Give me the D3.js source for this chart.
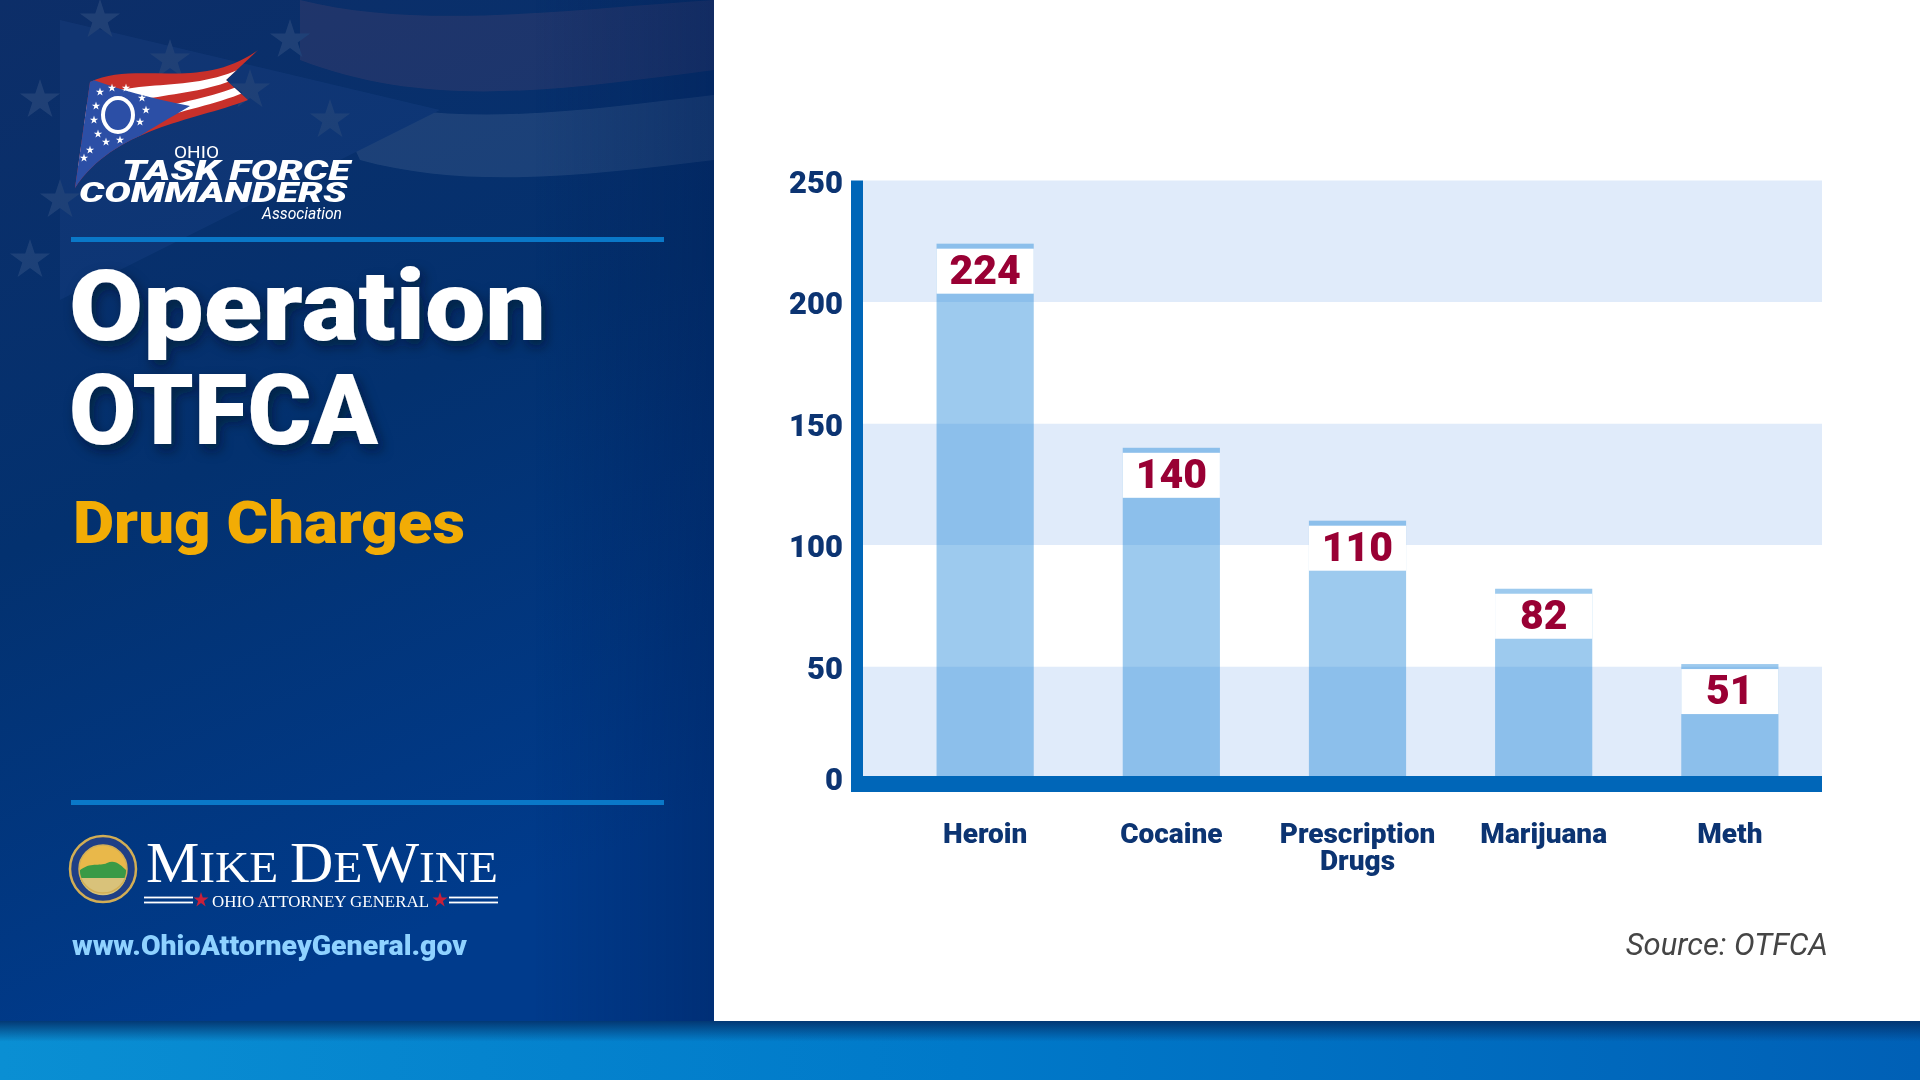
<!DOCTYPE html>
<html>
<head>
<meta charset="utf-8">
<script src="https://cdn.jsdelivr.net/npm/d3@7"></script>
<style>
  html, body { margin: 0; padding: 0; background: #ffffff; }
  svg { display: block; }
</style>
</head>
<body>
<svg id="chart" width="1920" height="1080"></svg>
<script>
// ---------- data ----------
const categories = ["Heroin", "Cocaine", "Prescription Drugs", "Marijuana", "Meth"];
const values = [224, 140, 110, 82, 51];
const yTicks = [0, 50, 100, 150, 200, 250];
const titleLines = ["Operation", "OTFCA"];
const subtitle = "Drug Charges";
const sourceText = "Source: OTFCA";
const urlText = "www.OhioAttorneyGeneral.gov";

const svg = d3.select("#chart");
const defs = svg.append("defs");
const FONT = "Roboto, Lato, 'Liberation Sans', Arial, sans-serif";
const SERIF = "'Liberation Serif', 'DejaVu Serif', serif";

// ---------- left panel background ----------
const g1 = defs.append("linearGradient").attr("id", "panelGrad")
  .attr("x1", "0").attr("y1", "0").attr("x2", "0.3").attr("y2", "1");
g1.append("stop").attr("offset", "0").attr("stop-color", "#0d2e68");
g1.append("stop").attr("offset", "0.5").attr("stop-color", "#03316f");
g1.append("stop").attr("offset", "1").attr("stop-color", "#003b8c");
const g2 = defs.append("linearGradient").attr("id", "panelEdge")
  .attr("x1", "0").attr("y1", "0").attr("x2", "1").attr("y2", "0");
g2.append("stop").attr("offset", "0").attr("stop-color", "#001a50").attr("stop-opacity", 0);
g2.append("stop").attr("offset", "0.75").attr("stop-color", "#001a50").attr("stop-opacity", 0);
g2.append("stop").attr("offset", "1").attr("stop-color", "#001a50").attr("stop-opacity", 0.35);
const g3 = defs.append("linearGradient").attr("id", "stripeGrad")
  .attr("x1", "0").attr("y1", "0").attr("x2", "1").attr("y2", "0");
g3.append("stop").attr("offset", "0").attr("stop-color", "#0a8fd3");
g3.append("stop").attr("offset", "0.5").attr("stop-color", "#0079c9");
g3.append("stop").attr("offset", "1").attr("stop-color", "#0060b6");
const g4 = defs.append("linearGradient").attr("id", "stripeTop")
  .attr("x1", "0").attr("y1", "0").attr("x2", "0").attr("y2", "1");
g4.append("stop").attr("offset", "0").attr("stop-color", "#03306a").attr("stop-opacity", 0.9);
g4.append("stop").attr("offset", "0.35").attr("stop-color", "#03306a").attr("stop-opacity", 0);
g4.append("stop").attr("offset", "1").attr("stop-color", "#03306a").attr("stop-opacity", 0);

const shadow = defs.append("filter").attr("id", "shadow")
  .attr("x", "-10%").attr("y", "-10%").attr("width", "130%").attr("height", "140%");
shadow.append("feDropShadow").attr("dx", 4).attr("dy", 6).attr("stdDeviation", 6)
  .attr("flood-color", "#000820").attr("flood-opacity", 0.55);

svg.append("rect").attr("x", 0).attr("y", 0).attr("width", 714).attr("height", 1021)
  .attr("fill", "url(#panelGrad)");

// faint background flag
const bg = svg.append("g").attr("opacity", 0.09);
bg.append("path").attr("d", "M300,0 C420,30 560,10 714,0 L714,70 C560,90 430,110 300,60 Z").attr("fill", "#ff8080");
bg.append("path").attr("d", "M330,95 C460,130 580,110 714,95 L714,160 C590,175 470,190 360,160 Z").attr("fill", "#ffffff");
bg.append("path").attr("d", "M60,20 L440,110 L60,300 Z").attr("fill", "#4f7fd8");
const starPath = d3.symbol().type(d3.symbolStar);
[[100,20],[170,60],[40,100],[250,90],[330,120],[60,200],[30,260],[290,40]].forEach(p => {
  bg.append("path").attr("d", starPath.size(500)()).attr("transform", `translate(${p[0]},${p[1]})`).attr("fill", "#ffffff");
});
svg.append("rect").attr("x", 0).attr("y", 0).attr("width", 714).attr("height", 1021)
  .attr("fill", "url(#panelEdge)");

// bottom stripe
svg.append("rect").attr("x", 0).attr("y", 1021).attr("width", 1920).attr("height", 59).attr("fill", "url(#stripeGrad)");
svg.append("rect").attr("x", 0).attr("y", 1021).attr("width", 1920).attr("height", 59).attr("fill", "url(#stripeTop)");

// dividers
svg.append("rect").attr("x", 71).attr("y", 237).attr("width", 593).attr("height", 5).attr("fill", "#0a78c8");
svg.append("rect").attr("x", 71).attr("y", 800).attr("width", 593).attr("height", 5).attr("fill", "#0a78c8");

// ---------- Task force logo ----------
const logo = svg.append("g");
const topC = [[90,82],[135,60],[200,92],[258,50]];
const botC = [[75,188],[115,128],[190,122],[248,100]];
function lerpCurve(t) {
  return topC.map((q, i) => [q[0] + (botC[i][0] - q[0]) * t, q[1] + (botC[i][1] - q[1]) * t]);
}
function curveStr(p, rev) {
  if (!rev) return `M${p[0]} C${p[1]} ${p[2]} ${p[3]}`;
  return `L${p[3]} C${p[2]} ${p[1]} ${p[0]}`;
}
defs.append("clipPath").attr("id", "flagClip").append("path")
  .attr("d", "M90,82 C135,60 200,92 258,50 L226,80 L248,100 C190,122 115,128 75,188 Z");
const flag = logo.append("g").attr("clip-path", "url(#flagClip)");
flag.append("rect").attr("x", 60).attr("y", 40).attr("width", 220).attr("height", 160).attr("fill", "#c8302a");
[[0.2,0.4],[0.6,0.8]].forEach(([a,b]) => {
  const pa = lerpCurve(a), pb = lerpCurve(b);
  flag.append("path").attr("d", curveStr(pa) + " " + curveStr(pb, true) + " Z").attr("fill", "#ffffff");
});
flag.append("path").attr("d", "M88,78 C120,90 150,98 190,106 C150,130 110,150 70,195 Z").attr("fill", "#2c4fa6");
logo.append("ellipse").attr("cx", 118).attr("cy", 115).attr("rx", 15).attr("ry", 17)
  .attr("fill", "none").attr("stroke", "#ffffff").attr("stroke-width", 4);
[[100,92],[112,88],[126,88],[142,98],[146,110],[140,122],[96,106],[94,120],[98,134],[106,142],[120,140],[90,150],[84,158]].forEach(p => {
  logo.append("path").attr("d", starPath.size(22)()).attr("transform", `translate(${p[0]},${p[1]})`).attr("fill", "#ffffff");
});
logo.append("text").attr("x", 174).attr("y", 158).attr("font-family", FONT).attr("font-size", 17)
  .attr("fill", "#ffffff").attr("textLength", 45).attr("lengthAdjust", "spacingAndGlyphs").text("OHIO");
logo.append("text").attr("x", 122).attr("y", 180).attr("font-family", FONT).attr("font-weight", 900)
  .attr("font-style", "italic").attr("font-size", 27).attr("fill", "#ffffff")
  .attr("textLength", 228).attr("lengthAdjust", "spacingAndGlyphs").text("TASK FORCE");
logo.append("text").attr("x", 79).attr("y", 202).attr("font-family", FONT).attr("font-weight", 900)
  .attr("font-style", "italic").attr("font-size", 27).attr("fill", "#ffffff")
  .attr("textLength", 268).attr("lengthAdjust", "spacingAndGlyphs").text("COMMANDERS");
logo.append("text").attr("x", 262).attr("y", 219).attr("font-family", FONT).attr("font-style", "italic")
  .attr("font-size", 16).attr("fill", "#ffffff")
  .attr("textLength", 80).attr("lengthAdjust", "spacingAndGlyphs").text("Association");

// ---------- titles ----------
svg.append("text").attr("x", 69).attr("y", 340).attr("font-family", FONT).attr("font-weight", 900)
  .attr("font-size", 98).attr("fill", "#ffffff").attr("filter", "url(#shadow)")
  .attr("textLength", 477).attr("lengthAdjust", "spacingAndGlyphs").text(titleLines[0]);
svg.append("text").attr("x", 69).attr("y", 444).attr("font-family", FONT).attr("font-weight", 900)
  .attr("font-size", 98).attr("fill", "#ffffff").attr("filter", "url(#shadow)")
  .attr("textLength", 309).attr("lengthAdjust", "spacingAndGlyphs").text(titleLines[1]);
svg.append("text").attr("x", 73).attr("y", 543).attr("font-family", FONT).attr("font-weight", 900)
  .attr("font-size", 59).attr("fill", "#f2ac05")
  .attr("textLength", 392).attr("lengthAdjust", "spacingAndGlyphs").text(subtitle);

// ---------- Mike DeWine block ----------
const seal = svg.append("g").attr("transform", "translate(103,869)");
seal.append("circle").attr("r", 33).attr("fill", "#1f3f86").attr("stroke", "#d2ae55").attr("stroke-width", 2.5);
seal.append("circle").attr("r", 24).attr("fill", "#e9b84a");
seal.append("path").attr("d", "M-24,2 C-12,-8 -4,-2 4,-6 C12,-10 18,-4 24,2 A24,24 0 0 1 -24,2 Z").attr("fill", "#3a9a46");
seal.append("path").attr("d", "M-23,9 L23,9 A24,24 0 0 1 -23,9 Z").attr("fill", "#d9c27a");
seal.append("circle").attr("r", 24).attr("fill", "none").attr("stroke", "#d2ae55").attr("stroke-width", 1.5);

const mdw = svg.append("text").attr("x", 146).attr("y", 882).attr("font-family", SERIF)
  .attr("fill", "#ffffff").attr("textLength", 352).attr("lengthAdjust", "spacingAndGlyphs");
[["M",57],["IKE ",45],["D",57],["E",45],["W",57],["INE",45]].forEach(([t,s]) => {
  mdw.append("tspan").attr("font-size", s).text(t);
});
svg.append("text").attr("x", 212).attr("y", 907).attr("font-family", SERIF).attr("font-size", 17)
  .attr("fill", "#ffffff").attr("textLength", 217).attr("lengthAdjust", "spacingAndGlyphs").text("OHIO ATTORNEY GENERAL");
[[144,193],[449,498]].forEach(([a,b]) => {
  [897.5, 902.5].forEach(yy => {
    svg.append("rect").attr("x", a).attr("y", yy - 0.9).attr("width", b - a).attr("height", 1.8).attr("fill", "#ffffff");
  });
});
[201, 440].forEach(cx => {
  svg.append("path").attr("d", starPath.size(70)()).attr("transform", `translate(${cx},900)`).attr("fill", "#c8203a");
});
svg.append("text").attr("x", 72).attr("y", 955).attr("font-family", FONT).attr("font-weight", 900)
  .attr("font-size", 27).attr("fill", "#8fd2ff")
  .attr("textLength", 395).attr("lengthAdjust", "spacingAndGlyphs").text(urlText);

// ---------- chart ----------
const y = d3.scaleLinear().domain([0, 250]).range([788, 180.5]);
const x = d3.scaleBand().domain(categories).range([890, 1825]).paddingInner(0.478).paddingOuter(0.25);
const plotL = 863, plotR = 1822;

const chart = svg.append("g");
// alternating bands
const bandData = yTicks.slice(0, -1).map((t, i) => ({ lo: t, hi: yTicks[i + 1], i }));
chart.selectAll("rect.band").data(bandData).join("rect").attr("class", "band")
  .attr("x", plotL).attr("width", plotR - plotL)
  .attr("y", d => y(d.hi)).attr("height", d => y(d.lo) - y(d.hi))
  .attr("fill", d => d.i % 2 === 0 ? "#e0ebfa" : "#ffffff");

// bars
const data = categories.map((c, i) => ({ c, v: values[i] }));
chart.selectAll("rect.bar").data(data).join("rect").attr("class", "bar")
  .attr("x", d => x(d.c)).attr("width", x.bandwidth())
  .attr("y", d => y(d.v)).attr("height", d => y(0) - y(d.v))
  .attr("fill", "rgb(37,137,217)").attr("fill-opacity", 0.45);
// label boxes
chart.selectAll("rect.lbox").data(data).join("rect").attr("class", "lbox")
  .attr("x", d => x(d.c)).attr("width", x.bandwidth())
  .attr("y", d => y(d.v) + 5).attr("height", 45)
  .attr("fill", "#ffffff");
chart.selectAll("text.val").data(data).join("text").attr("class", "val")
  .attr("x", d => x(d.c) + x.bandwidth() / 2).attr("y", d => y(d.v) + 40)
  .attr("text-anchor", "middle").attr("font-family", FONT).attr("font-weight", 900)
  .attr("font-size", 41).attr("fill", "#990034").text(d => d.v);

// axis bars
chart.append("rect").attr("x", 851).attr("y", 180.5).attr("width", 12).attr("height", 792 - 180.5).attr("fill", "#0066b8");
chart.append("rect").attr("x", 851).attr("y", 776).attr("width", plotR - 851).attr("height", 16).attr("fill", "#0066b8");

// y axis labels
const yAxis = chart.append("g").attr("transform", "translate(851,0)")
  .call(d3.axisLeft(y).tickValues(yTicks).tickSize(0).tickPadding(8));
yAxis.select(".domain").remove();
yAxis.selectAll(".tick text").attr("font-family", FONT).attr("font-weight", 900)
  .attr("font-size", 31).attr("fill", "#0c3472")
  .attr("y", d => d === 0 ? -8 : 2);

// x axis labels
const xAxis = chart.append("g").attr("transform", "translate(0,792)")
  .call(d3.axisBottom(x).tickSize(0).tickFormat(""));
xAxis.select(".domain").remove();
xAxis.selectAll(".tick text").remove();
xAxis.selectAll(".tick").each(function (d) {
  const t = d3.select(this).append("text").attr("text-anchor", "middle")
    .attr("font-family", FONT).attr("font-weight", 900).attr("font-size", 28).attr("fill", "#0c3472");
  d.split(" ").forEach((w, i) => {
    t.append("tspan").attr("x", 0).attr("y", 51 + i * 27).text(w);
  });
});

// source
svg.append("text").attr("x", 1828).attr("y", 955).attr("text-anchor", "end")
  .attr("font-family", FONT).attr("font-style", "italic").attr("font-size", 31)
  .attr("fill", "#454545").text(sourceText);
</script>
</body>
</html>
